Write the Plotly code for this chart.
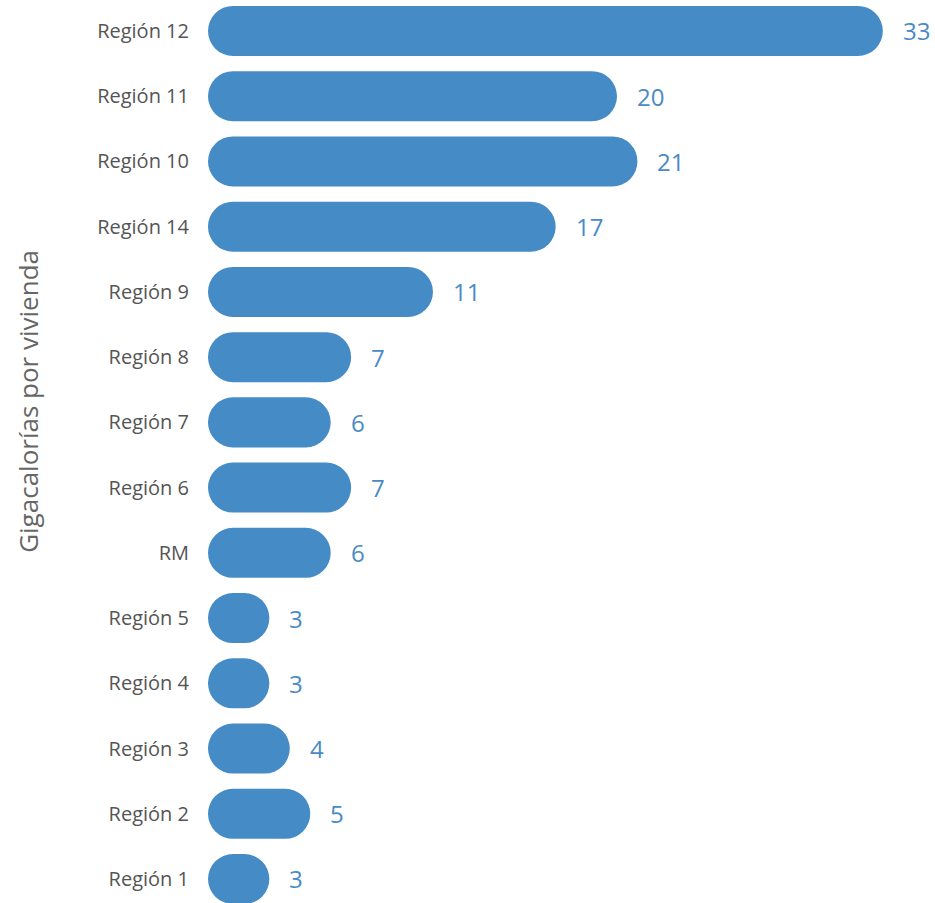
import plotly.graph_objects as go

# Regions listed top to bottom, with heating demand per dwelling
regions = ["Región 12", "Región 11", "Región 10", "Región 14", "Región 9",
           "Región 8", "Región 7", "Región 6", "RM", "Región 5",
           "Región 4", "Región 3", "Región 2", "Región 1"]
gcal = [33, 20, 21, 17, 11, 7, 6, 7, 6, 3, 3, 4, 5, 3]

axis_title = "Gigacalorías por vivienda"

BAR = "#458bc6"
LABEL = "#4a8ac6"
GREY = "#555555"
FONT = "'Open Sans', Lato, sans-serif"

fig = go.Figure()

# Pill-shaped bars: an explicit base rounds both ends
fig.add_trace(go.Bar(y=regions, x=gcal, base=[0] * len(gcal),
                     orientation="h", width=0.767, marker_color=BAR,
                     marker_line_width=0, marker_cornerradius="50%",
                     hoverinfo="skip", showlegend=False))

# Value labels to the right of each bar
for r, v in zip(regions, gcal):
    fig.add_annotation(x=v, y=r, text=str(v), showarrow=False,
                       xanchor="left", yanchor="middle", xshift=18,
                       font=dict(family=FONT, size=24, color=LABEL))

fig.add_annotation(xref="paper", yref="paper", x=-0.234, y=0.555,
                   text=axis_title, textangle=-90, showarrow=False,
                   xanchor="center", yanchor="middle",
                   font=dict(family=FONT, size=26, color="#666666"))

fig.update_layout(
    width=935, height=903,
    margin=dict(l=200, r=0, t=0, b=0),
    paper_bgcolor="white", plot_bgcolor="white",
    xaxis=dict(range=[-0.391, 35.55], visible=False, fixedrange=True),
    yaxis=dict(categoryorder="array", categoryarray=regions,
               range=[13.368, -0.475], autorange=False,
               showgrid=False, zeroline=False, showline=False,
               ticks="", ticklabelstandoff=10,
               tickfont=dict(family=FONT, size=20, color=GREY)),
)

fig.write_html("out.html")
